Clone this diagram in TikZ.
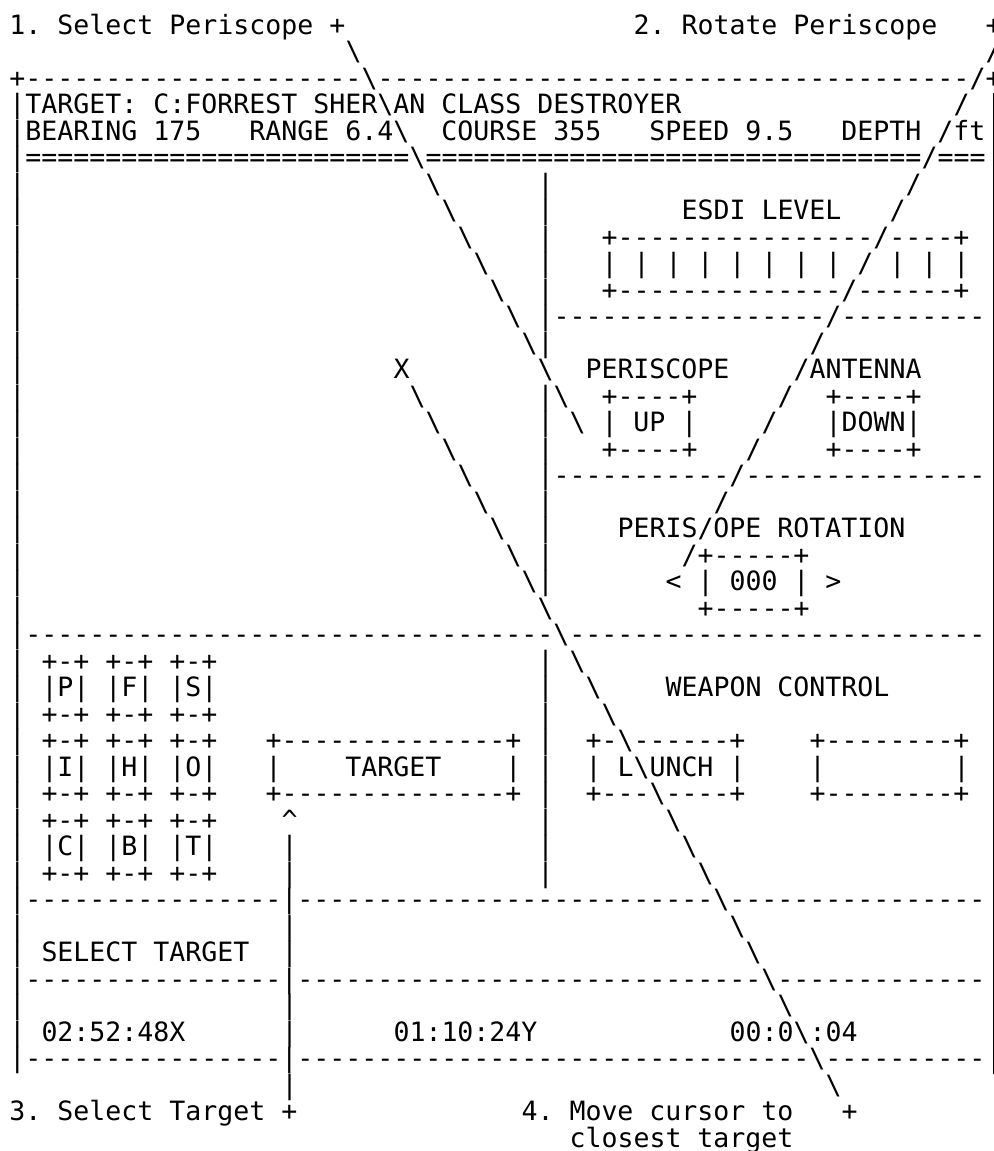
\documentclass[tikz,border=0pt]{standalone}
\usepackage{fontspec}
\setmonofont{DejaVu Sans Mono}
\newcommand\dashrun[1]{\ifnum#1>0 -\expandafter\dashrun\expandafter{\the\numexpr#1-1\relax}\fi}
\newcommand\eqrun[1]{\ifnum#1>0 =\expandafter\eqrun\expandafter{\the\numexpr#1-1\relax}\fi}
\newcommand\bsl{\textbackslash}
\tikzset{
  ascii/.style={anchor=base west, inner sep=0pt, outer sep=0pt, text=black,
    font=\ttfamily\fontsize{13.288pt}{13.25pt}\selectfont\frenchspacing},
  border/.style={draw=black, line width=0.93pt}
}
% one text cell run: row, column, text
\newcommand\cell[3]{\node[ascii] (c#1-#2) at ({9.5+16*#2},{34+26.5*#1}) {#3};}
\begin{document}
\begin{tikzpicture}[x=0.5pt,y=-0.5pt]
\fill[white] (0,0) rectangle (994,1151);
\useasboundingbox (0,0) rectangle (994,1151);
% right border (column 61, cut by the picture edge)
\coordinate (rbtop) at (993.5,93.3);
\coordinate (rbbot) at (993.5,1073.8);
\draw[border] (rbtop) -- (rbbot);
% row 0-1: captions
\cell{0}{0}{1.~Select~Periscope~+}
\cell{0}{39}{2.~Rotate~Periscope}
\cell{0}{61}{+}
\cell{1}{21}{\bsl}
\cell{1}{61}{/}
% row 2: top border
\cell{2}{0}{+\dashrun{21}}
\cell{2}{22}{\bsl}
\cell{2}{23}{\dashrun{37}}
\cell{2}{60}{/}
\cell{2}{61}{+}
% rows 3-5: header
\cell{3}{0}{|TARGET:~C:FORREST~SHER\bsl{}AN~CLASS~DESTROYER}
\cell{3}{59}{/}
\cell{4}{0}{|BEARING~175~~~RANGE~6.4\bsl{}~~COURSE~355~~~SPEED~9.5~~~DEPTH~/ft}
\cell{5}{0}{|\eqrun{24}}
\cell{5}{25}{\bsl}
\cell{5}{26}{\eqrun{31}}
\cell{5}{57}{/===}
% rows 6-12: ESDI level
\cell{6}{0}{|}
\cell{6}{26}{\bsl}
\cell{6}{33}{|}
\cell{6}{56}{/}
\cell{7}{0}{|}
\cell{7}{27}{\bsl}
\cell{7}{33}{|}
\cell{7}{42}{ESDI~LEVEL}
\cell{7}{55}{/}
\cell{8}{0}{|}
\cell{8}{28}{\bsl}
\cell{8}{33}{|}
\cell{8}{37}{+\dashrun{16}/\dashrun{4}+}
\cell{9}{0}{|}
\cell{9}{29}{\bsl}
\cell{9}{33}{|}
\cell{9}{37}{|~|~|~|~|~|~|~|~/~|~|~|}
\cell{10}{0}{|}
\cell{10}{30}{\bsl}
\cell{10}{33}{|}
\cell{10}{37}{+\dashrun{14}/\dashrun{6}+}
\cell{11}{0}{|}
\cell{11}{31}{\bsl}
\cell{11}{33}{|\dashrun{17}/\dashrun{9}}
\cell{12}{0}{|}
\cell{12}{32}{\bsl|}
\cell{12}{50}{/}
% rows 13-16: periscope / antenna
\cell{13}{0}{|}
\cell{13}{24}{X}
\cell{13}{33}{\bsl~~PERISCOPE}
\cell{13}{49}{/ANTENNA}
\cell{14}{0}{|}
\cell{14}{25}{\bsl}
\cell{14}{33}{|\bsl~~+----+}
\cell{14}{48}{/}
\cell{14}{51}{+----+}
\cell{15}{0}{|}
\cell{15}{26}{\bsl}
\cell{15}{33}{|~\bsl~|~UP~|}
\cell{15}{47}{/}
\cell{15}{51}{|DOWN|}
\cell{16}{0}{|}
\cell{16}{27}{\bsl}
\cell{16}{33}{|}
\cell{16}{37}{+----+}
\cell{16}{46}{/}
\cell{16}{51}{+----+}
\cell{17}{0}{|}
\cell{17}{28}{\bsl}
\cell{17}{33}{|\dashrun{11}/\dashrun{15}}
% rows 18-22: periscope rotation
\cell{18}{0}{|}
\cell{18}{29}{\bsl}
\cell{18}{33}{|}
\cell{18}{44}{/}
\cell{19}{0}{|}
\cell{19}{30}{\bsl}
\cell{19}{33}{|}
\cell{19}{38}{PERIS/OPE~ROTATION}
\cell{20}{0}{|}
\cell{20}{31}{\bsl}
\cell{20}{33}{|}
\cell{20}{42}{/+-----+}
\cell{21}{0}{|}
\cell{21}{32}{\bsl|}
\cell{21}{41}{<~|~000~|~>}
\cell{22}{0}{|}
\cell{22}{33}{\bsl}
\cell{22}{43}{+-----+}
\cell{23}{0}{|\dashrun{33}\bsl\dashrun{26}}
% rows 24-32: selector buttons, target, weapon control
\cell{24}{0}{|}
\cell{24}{2}{+-+~+-+~+-+}
\cell{24}{33}{|}
\cell{24}{35}{\bsl}
\cell{25}{0}{|}
\cell{25}{2}{|P|~|F|~|S|}
\cell{25}{33}{|}
\cell{25}{36}{\bsl}
\cell{25}{41}{WEAPON~CONTROL}
\cell{26}{0}{|}
\cell{26}{2}{+-+~+-+~+-+}
\cell{26}{33}{|}
\cell{26}{37}{\bsl}
\cell{27}{0}{|}
\cell{27}{2}{+-+~+-+~+-+}
\cell{27}{16}{+\dashrun{14}+}
\cell{27}{33}{|}
\cell{27}{36}{+-\bsl------+}
\cell{27}{50}{+--------+}
\cell{28}{0}{|}
\cell{28}{2}{|I|~|H|~|O|}
\cell{28}{16}{|~~~~TARGET~~~~|}
\cell{28}{33}{|}
\cell{28}{36}{|~L\bsl{}UNCH~|}
\cell{28}{50}{|~~~~~~~~|}
\cell{29}{0}{|}
\cell{29}{2}{+-+~+-+~+-+}
\cell{29}{16}{+\dashrun{14}+}
\cell{29}{33}{|}
\cell{29}{36}{+---\bsl----+}
\cell{29}{50}{+--------+}
\cell{30}{0}{|}
\cell{30}{2}{+-+~+-+~+-+}
\cell{30}{17}{\textasciicircum}
\cell{30}{33}{|}
\cell{30}{41}{\bsl}
\cell{31}{0}{|}
\cell{31}{2}{|C|~|B|~|T|}
\cell{31}{17}{|}
\cell{31}{33}{|}
\cell{31}{42}{\bsl}
\cell{32}{0}{|}
\cell{32}{2}{+-+~+-+~+-+}
\cell{32}{17}{|}
\cell{32}{33}{|}
\cell{32}{43}{\bsl}
% rows 33-39: select target and clocks
\cell{33}{0}{|\dashrun{16}|\dashrun{26}\bsl\dashrun{16}}
\cell{34}{0}{|}
\cell{34}{17}{|}
\cell{34}{45}{\bsl}
\cell{35}{0}{|}
\cell{35}{2}{SELECT~TARGET}
\cell{35}{17}{|}
\cell{35}{46}{\bsl}
\cell{36}{0}{|\dashrun{16}|\dashrun{29}\bsl\dashrun{13}}
\cell{37}{0}{|}
\cell{37}{17}{|}
\cell{37}{48}{\bsl}
\cell{38}{0}{|}
\cell{38}{2}{02:52:48X}
\cell{38}{17}{|}
\cell{38}{24}{01:10:24Y}
\cell{38}{45}{00:0\bsl{}:04}
\cell{39}{0}{|\dashrun{16}|\dashrun{32}\bsl\dashrun{10}}
% rows 40-42: captions
\cell{40}{17}{|}
\cell{40}{51}{\bsl}
\cell{41}{0}{3.~Select~Target~+}
\cell{41}{32}{4.~Move~cursor~to}
\cell{41}{52}{+}
\cell{42}{35}{closest~target}
\end{tikzpicture}
\end{document}
